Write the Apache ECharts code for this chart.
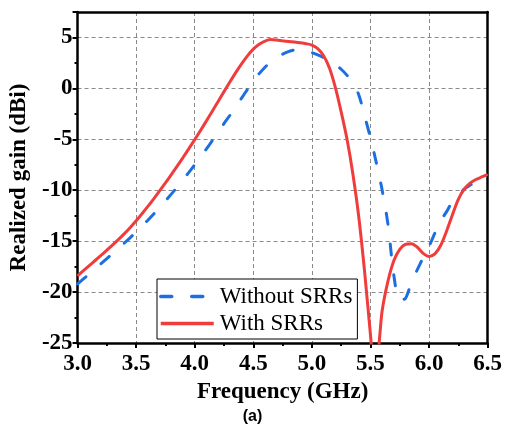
<!DOCTYPE html>
<html>
<head>
<meta charset="utf-8">
<script src="https://cdn.jsdelivr.net/npm/echarts@6/dist/echarts.min.js"></script>
<style>html,body{margin:0;padding:0;background:#fff;}#c{width:505px;height:427px;}</style>
</head>
<body>
<div id="c"></div>
<script>
// Frequency (GHz) and realized gain (dBi)
var withoutFreq = [3.00,3.05,3.10,3.15,3.20,3.25,3.30,3.35,3.40,3.45,3.50,3.55,3.60,3.65,3.70,3.75,3.80,3.85,3.90,3.95,
  4.00,4.05,4.10,4.15,4.20,4.25,4.30,4.35,4.40,4.45,4.50,4.55,4.60,4.65,4.70,4.75,4.80,4.85,4.90,4.95,
  5.00,5.05,5.10,5.15,5.20,5.25,5.30,5.35,5.40,5.45,5.50,5.55,5.60,5.65,5.70,5.75,5.80,5.85,5.90,5.95,
  6.00,6.05,6.10,6.15,6.20,6.25,6.30,6.35,6.40,6.45,6.50];
var withoutGain = [-19.20,-18.71,-18.22,-17.72,-17.22,-16.72,-16.21,-15.70,-15.18,-14.65,-14.10,-13.53,-12.94,-12.33,-11.70,-11.05,-10.38,-9.69,-8.98,-8.25,
  -7.50,-6.73,-5.94,-5.13,-4.30,-3.45,-2.65,-1.80,-0.95,-0.10,0.72,1.45,2.08,2.61,3.03,3.36,3.61,3.76,3.78,3.68,
  3.51,3.29,3.02,2.70,2.33,1.88,1.28,0.48,-0.62,-2.72,-4.85,-7.30,-10.0,-13.4,-18.4,-20.8,-20.6,-19.0,-17.8,-16.6,
  -15.5,-14.2,-13.0,-12.1,-11.1,-10.5,-9.9,-9.5,-9.2,-8.95,-8.7];
var withFreq = [3.00,3.05,3.10,3.15,3.20,3.25,3.30,3.35,3.40,3.45,3.50,3.55,3.60,3.65,3.70,3.75,3.80,3.85,3.90,3.95,
  4.00,4.05,4.10,4.15,4.20,4.25,4.30,4.35,4.40,4.45,4.50,4.55,4.60,4.65,4.70,4.75,4.80,4.85,4.90,4.95,
  5.00,5.05,5.10,5.15,5.20,5.25,5.30,5.35,5.40,5.45,5.50,5.54,5.58,5.60,5.65,5.70,5.75,5.80,5.85,5.90,5.95,
  6.00,6.05,6.10,6.15,6.20,6.25,6.30,6.35,6.40,6.45,6.50];
var withGain = [-18.40,-17.90,-17.40,-16.90,-16.40,-15.89,-15.37,-14.83,-14.26,-13.65,-13.00,-12.31,-11.59,-10.84,-10.07,-9.28,-8.47,-7.64,-6.79,-5.92,
  -5.03,-4.12,-3.19,-2.24,-1.28,-0.32,0.63,1.55,2.41,3.19,3.85,4.33,4.65,4.79,4.74,4.67,4.61,4.55,4.48,4.39,
  4.25,3.90,3.20,2.00,0.10,-2.30,-5.00,-8.40,-12.60,-18.00,-24.20,-29.0,-24.2,-21.8,-18.9,-16.9,-15.8,-15.3,-15.25,-15.6,-16.2,
  -16.5,-16.25,-15.4,-14.0,-12.4,-10.9,-9.9,-9.3,-8.95,-8.7,-8.45];
var seriesNames = ['Without SRRs', 'With SRRs'];

function pairs(xs, ys){ return xs.map(function(x,i){ return [x, ys[i]]; }); }

var chart = echarts.init(document.getElementById('c'), null, {renderer:'canvas'});
var serif = 'Liberation Serif, Times New Roman, serif';
chart.setOption({
  animation: false,
  backgroundColor: '#fff',
  grid: {left: 77, right: 16, top: 12, bottom: 84, containLabel: false},
  legend: {
    orient: 'vertical', left: 157, top: 279,
    padding: [6, 5, 4, 2], itemGap: 4,
    itemWidth: 53, itemHeight: 14,
    borderColor: '#000', borderWidth: 1, backgroundColor: '#fff',
    itemStyle: {opacity: 0},
    lineStyle: {width: 3.5},
    textStyle: {fontFamily: serif, fontSize: 23, color: '#000', padding: [0,0,0,1]},
    data: seriesNames
  },
  xAxis: [{
    type: 'value', min: 3.0, max: 6.5, interval: 0.5,
    name: 'Frequency (GHz)', nameLocation: 'middle', nameGap: 30,
    nameTextStyle: {fontFamily: serif, fontSize: 23, fontWeight: 'bold', color: '#000'},
    axisLine: {show: true, onZero: false, lineStyle: {color: '#000', width: 2.5}},
    axisTick: {show: true, inside: false, length: 5, lineStyle: {color: '#000', width: 2}},
    minorTick: {show: true, splitNumber: 2, length: 3, lineStyle: {color: '#000', width: 2}},
    axisLabel: {margin: 10, fontFamily: serif, fontSize: 23, fontWeight: 'bold', color: '#000',
      formatter: function(v){ return v.toFixed(1); }},
    splitLine: {show: true, lineStyle: {color: '#8a8a8a', type: [4,3], width: 1}}
  }, {
    type: 'value', position: 'top', min: 3.0, max: 6.5, interval: 0.5,
    axisLine: {show: true, onZero: false, lineStyle: {color: '#000', width: 2.5}},
    axisTick: {show: false}, axisLabel: {show: false}, splitLine: {show: false}
  }],
  yAxis: [{
    type: 'value', min: -25, max: 7.5, interval: 5,
    name: 'Realized gain (dBi)', nameLocation: 'middle', nameGap: 39,
    nameTextStyle: {fontFamily: serif, fontSize: 23, fontWeight: 'bold', color: '#000'},
    axisLine: {show: true, onZero: false, lineStyle: {color: '#000', width: 2.5}},
    axisTick: {show: true, inside: false, length: 5, lineStyle: {color: '#000', width: 2}},
    minorTick: {show: true, splitNumber: 2, length: 3, lineStyle: {color: '#000', width: 2}},
    axisLabel: {margin: 5, showMaxLabel: false, fontFamily: serif, fontSize: 23, fontWeight: 'bold', color: '#000',
      formatter: function(v){ return (v % 5 === 0) ? String(v) : ''; }},
    splitLine: {show: true, lineStyle: {color: '#8a8a8a', type: [4,3], width: 1}}
  }, {
    type: 'value', position: 'right', min: -25, max: 7.5, interval: 5,
    axisLine: {show: true, onZero: false, lineStyle: {color: '#000', width: 2.5}},
    axisTick: {show: false}, axisLabel: {show: false}, splitLine: {show: false}
  }],
  series: [{
    name: seriesNames[0], type: 'line', data: pairs(withoutFreq, withoutGain),
    smooth: 0.3, showSymbol: false, symbol: 'none', clip: true,
    lineStyle: {color: '#1b6fe0', width: 3, type: [11, 20], cap: 'round'},
    itemStyle: {color: '#1b6fe0'}, z: 3
  }, {
    name: seriesNames[1], type: 'line', data: pairs(withFreq, withGain),
    smooth: 0.3, showSymbol: false, symbol: 'none', clip: true,
    lineStyle: {color: '#f03c3c', width: 3},
    itemStyle: {color: '#f03c3c'}, z: 4
  }],
  graphic: [{
    type: 'text', left: 'center', top: 409,
    style: {text: '(a)', font: 'bold 16px Liberation Sans, Arial, sans-serif', fill: '#000'}
  }]
});
</script>
</body>
</html>
